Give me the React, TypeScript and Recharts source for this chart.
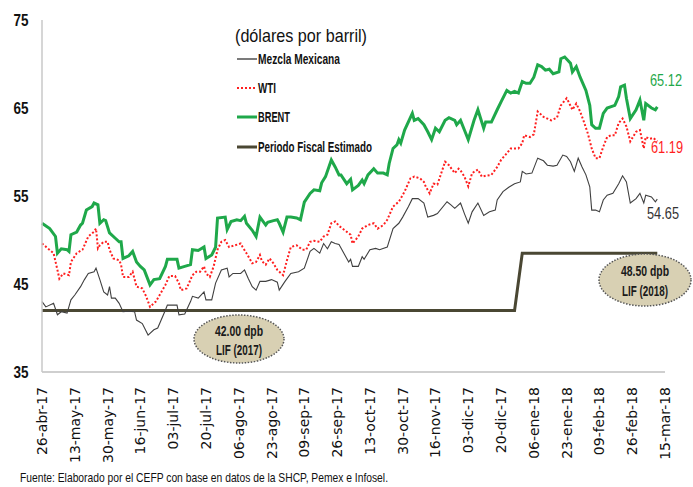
import React from 'react';
import { LineChart, Line, XAxis, YAxis } from 'recharts';

const tickDays = [0, 17, 34, 51, 68, 85, 102, 119, 136, 153, 170, 187, 204, 221, 238, 255, 272, 289, 306, 323];
const tickLabels = ['26-abr-17', '13-may-17', '30-may-17', '16-jun-17', '03-jul-17', '20-jul-17', '06-ago-17', '23-ago-17', '09-sep-17', '26-sep-17', '13-oct-17', '30-oct-17', '16-nov-17', '03-dic-17', '20-dic-17', '06-ene-18', '23-ene-18', '09-feb-18', '26-feb-18', '15-mar-18'];
const yTicks = [35, 45, 55, 65, 75];

const brentDays = [0, 4, 7, 8, 10, 13, 14, 15, 18, 20, 21, 23, 26, 27, 29, 30, 32, 33, 35, 38, 40, 41, 42, 45, 47, 49, 51, 53, 56, 58, 61, 64, 65, 70, 71, 74, 77, 78, 81, 84, 85, 88, 90, 91, 95, 96, 98, 101, 103, 105, 106, 109, 111, 113, 116, 117, 120, 122, 123, 125, 127, 129, 132, 134, 136, 139, 141, 144, 145, 147, 150, 152, 154, 155, 158, 160, 161, 164, 166, 167, 169, 172, 174, 177, 179, 180, 182, 184, 185, 186, 188, 192, 193, 195, 198, 200, 202, 204, 206, 209, 211, 214, 215, 217, 219, 221, 224, 226, 229, 230, 233, 236, 238, 241, 243, 245, 247, 249, 251, 253, 255, 257, 259, 261, 263, 265, 268, 269, 271, 274, 275, 277, 279, 282, 284, 285, 287, 289, 291, 293, 297, 299, 300, 302, 303, 305, 308, 310, 312, 313, 316, 318, 319];
const brentValues = [51.9, 51.3, 50.4, 48.5, 49.0, 48.9, 48.7, 50.6, 50.9, 51.7, 51.9, 53.4, 53.8, 54.2, 54.0, 51.9, 52.3, 52.2, 50.8, 50.2, 49.8, 49.8, 47.9, 48.2, 48.7, 47.5, 47.0, 46.6, 44.9, 45.5, 45.6, 47.0, 47.8, 47.8, 46.8, 47.0, 47.2, 48.9, 48.8, 49.2, 47.9, 48.3, 49.2, 52.5, 52.6, 51.2, 52.1, 52.3, 52.2, 52.7, 51.9, 51.1, 50.4, 52.6, 51.7, 52.0, 52.2, 52.3, 51.9, 50.9, 52.6, 52.6, 52.5, 52.3, 54.3, 55.3, 55.7, 55.6, 56.5, 57.2, 59.1, 58.3, 57.4, 57.4, 56.4, 56.9, 55.7, 56.2, 56.8, 56.4, 57.4, 58.1, 57.6, 57.6, 57.4, 58.7, 60.4, 60.8, 61.4, 61.0, 62.5, 64.4, 63.6, 63.8, 63.1, 62.3, 61.4, 62.7, 62.3, 63.6, 63.9, 63.6, 63.1, 63.6, 62.5, 61.4, 63.6, 64.8, 62.7, 63.4, 63.4, 64.8, 65.7, 67.0, 66.7, 66.9, 66.7, 68.0, 67.8, 67.8, 68.5, 69.9, 69.7, 69.3, 69.4, 68.9, 69.1, 70.6, 70.8, 70.1, 69.1, 69.7, 68.5, 67.0, 65.3, 63.1, 62.7, 62.7, 64.4, 65.0, 65.3, 66.3, 67.4, 67.6, 66.1, 63.8, 64.8, 65.9, 63.6, 65.5, 65.0, 64.8, 65.12];

const wtiDays = [0, 3, 6, 8, 9, 11, 14, 15, 18, 21, 22, 24, 27, 28, 29, 30, 32, 34, 35, 37, 40, 41, 42, 45, 47, 49, 52, 54, 56, 59, 61, 64, 66, 69, 71, 72, 75, 78, 80, 82, 84, 85, 87, 89, 91, 93, 95, 97, 100, 103, 104, 106, 109, 111, 113, 114, 116, 118, 120, 122, 125, 127, 129, 132, 135, 137, 139, 141, 144, 146, 148, 150, 152, 154, 157, 160, 161, 164, 166, 169, 172, 174, 177, 179, 182, 185, 188, 191, 193, 196, 198, 199, 201, 203, 205, 207, 209, 211, 214, 216, 217, 219, 221, 223, 226, 228, 230, 233, 236, 238, 241, 243, 247, 249, 250, 253, 255, 257, 260, 262, 264, 267, 269, 272, 273, 275, 277, 279, 281, 283, 285, 287, 289, 291, 293, 295, 297, 299, 301, 303, 305, 308, 310, 312, 313, 315, 317, 319];
const wtiValues = [49.6, 49.05, 48.5, 46.6, 45.6, 46.2, 46.0, 47.5, 48.5, 48.9, 49.4, 50.4, 50.95, 51.3, 49.05, 49.4, 49.8, 49.8, 48.9, 47.9, 47.7, 47.2, 45.8, 45.8, 46.4, 44.7, 44.5, 43.6, 42.4, 43.0, 43.75, 44.9, 45.9, 45.9, 45.1, 44.3, 44.5, 46.0, 46.4, 46.4, 47.0, 46.2, 45.8, 47.0, 48.9, 49.8, 50.0, 49.2, 49.4, 49.6, 49.2, 48.5, 47.35, 47.5, 48.3, 47.6, 47.2, 47.9, 47.35, 46.6, 46.0, 47.7, 49.2, 49.4, 48.9, 48.9, 49.8, 49.9, 49.8, 50.4, 50.6, 51.9, 52.1, 51.6, 51.1, 50.6, 49.6, 50.4, 51.3, 51.7, 51.9, 51.3, 51.7, 52.3, 53.8, 54.35, 55.5, 57.0, 57.2, 57.0, 56.6, 56.05, 55.3, 56.4, 56.3, 57.6, 58.9, 58.5, 57.6, 58.1, 57.9, 57.2, 56.1, 57.6, 58.0, 57.2, 57.3, 57.4, 58.3, 59.1, 59.85, 60.4, 60.4, 61.0, 61.9, 61.7, 62.0, 64.6, 64.0, 63.8, 63.6, 63.9, 65.3, 66.1, 65.7, 64.8, 65.5, 64.6, 63.4, 62.1, 60.4, 59.3, 59.3, 60.6, 61.7, 61.9, 61.9, 63.3, 63.8, 62.9, 61.2, 62.3, 62.5, 60.4, 61.7, 61.5, 61.6, 61.19];

const mezclaDays = [0, 2, 6, 8, 10, 13, 15, 17, 20, 22, 24, 27, 28, 30, 32, 34, 35, 36, 38, 40, 42, 45, 48, 49, 52, 55, 58, 60, 64, 65, 70, 71, 74, 77, 78, 81, 84, 85, 88, 90, 93, 96, 97, 99, 103, 105, 107, 109, 111, 113, 116, 119, 122, 123, 126, 129, 133, 136, 139, 141, 144, 146, 148, 150, 152, 154, 157, 159, 160, 161, 164, 166, 167, 170, 173, 175, 179, 182, 185, 187, 190, 192, 195, 198, 200, 203, 205, 210, 212, 214, 217, 219, 221, 223, 226, 229, 232, 235, 236, 239, 242, 245, 248, 249, 251, 254, 257, 260, 262, 265, 267, 270, 272, 274, 276, 278, 280, 282, 284, 285, 287, 289, 291, 293, 296, 299, 301, 303, 305, 308, 310, 312, 313, 316, 318, 319];
const mezclaValues = [43.0, 42.4, 42.8, 41.5, 41.85, 41.7, 43.2, 43.75, 44.7, 45.5, 46.2, 46.4, 46.8, 45.5, 44.1, 43.75, 44.7, 43.4, 43.4, 42.8, 41.85, 41.9, 41.85, 40.9, 40.5, 39.2, 39.8, 40.0, 42.05, 42.6, 42.6, 41.5, 41.6, 43.0, 43.6, 43.4, 44.1, 43.2, 43.2, 45.1, 46.6, 46.8, 45.8, 46.2, 46.2, 46.6, 45.6, 44.7, 44.3, 45.3, 45.3, 45.5, 45.2, 44.3, 45.3, 46.2, 46.4, 46.8, 48.7, 49.05, 48.5, 49.6, 49.0, 49.8, 49.6, 49.5, 48.3, 47.5, 47.8, 47.0, 47.0, 48.1, 47.8, 48.9, 49.05, 48.9, 49.2, 51.3, 51.9, 52.6, 53.8, 54.7, 54.7, 54.2, 52.6, 52.8, 53.0, 54.35, 54.0, 53.6, 54.2, 53.0, 51.9, 53.2, 54.2, 52.8, 53.2, 53.4, 54.55, 55.5, 56.0, 56.4, 56.6, 57.8, 57.5, 57.6, 59.3, 59.0, 58.5, 58.4, 58.5, 59.65, 59.5, 58.9, 57.8, 59.3, 58.3, 57.4, 56.05, 53.4, 53.4, 53.2, 54.55, 55.1, 55.3, 56.4, 57.3, 56.6, 54.2, 54.7, 55.3, 54.2, 55.1, 54.9, 54.35, 54.65];

const fiscalDays = [0, 245, 249, 319];
const fiscalValues = [42.0, 42.0, 48.5, 48.5];

const toSeries = (days: number[], values: number[]) => days.map((d, i) => ({ d, v: values[i] }));

const brentData = toSeries(brentDays, brentValues);
const wtiData = toSeries(wtiDays, wtiValues);
const mezclaData = toSeries(mezclaDays, mezclaValues);
const fiscalData = toSeries(fiscalDays, fiscalValues);

const lastOf = (arr: number[]) => arr[arr.length - 1].toFixed(2);

const GREEN = '#1fa84a';
const RED = '#ff1f1f';
const DARK = '#404040';
const OLIVE = '#4a4733';

const XTick = (props: any) => {
  const { x, payload } = props;
  const idx = tickDays.indexOf(payload.value);
  const label = idx >= 0 ? tickLabels[idx] : '';
  const tx = x + 5;
  const ty = 387;
  return (
    <text x={tx} y={ty} transform={`rotate(-90 ${tx} ${ty})`} textAnchor="end" fontFamily="DejaVu Sans" fontSize={14} fill="#111">
      {label}
    </text>
  );
};

const YTick = (props: any) => {
  const { y, payload } = props;
  return (
    <text x={21} y={y + 6} textAnchor="middle" fontFamily="Liberation Sans" fontWeight="bold" fontSize={17} textLength={15} lengthAdjust="spacingAndGlyphs" fill="#111">
      {payload.value}
    </text>
  );
};

const legendItems = [
  { label: 'Mezcla Mexicana', color: '#222', width: 1.2, dash: undefined as string | undefined, len: 82, cy: 59 },
  { label: 'WTI', color: RED, width: 2, dash: '2 2', len: 18, cy: 88 },
  { label: 'BRENT', color: GREEN, width: 3, dash: undefined, len: 32, cy: 117 },
  { label: 'Periodo Fiscal Estimado', color: OLIVE, width: 3, dash: undefined, len: 114, cy: 147 },
];

const endLabels = [
  { text: lastOf(brentValues), color: GREEN, x: 650, y: 86 },
  { text: lastOf(wtiValues), color: RED, x: 651, y: 153 },
  { text: lastOf(mezclaValues), color: '#333', x: 647, y: 219 },
];

export default function App() {
  return (
    <div style={{ position: 'absolute', left: 0, top: 0, width: 693, height: 487, background: '#fff' }}>
      <LineChart width={693} height={487} data={brentData} margin={{ top: 20, right: 28, bottom: 0, left: 0 }}>
        <XAxis
          dataKey="d"
          type="number"
          domain={[0, 323]}
          ticks={tickDays}
          interval={0}
          height={115}
          tickLine={false}
          axisLine={{ stroke: '#bfbfbf', strokeWidth: 1.5 }}
          tick={<XTick />}
        />
        <YAxis
          type="number"
          domain={[35, 75]}
          ticks={yTicks}
          width={42}
          tickLine={false}
          axisLine={{ stroke: '#c8c8c8', strokeWidth: 1.5 }}
          tick={<YTick />}
        />
        <Line data={fiscalData} dataKey="v" type="linear" stroke={OLIVE} strokeWidth={3} dot={false} isAnimationActive={false} />
        <Line data={mezclaData} dataKey="v" type="linear" stroke={DARK} strokeWidth={1.1} dot={false} isAnimationActive={false} />
        <Line data={wtiData} dataKey="v" type="linear" stroke={RED} strokeWidth={2} strokeDasharray="2 2" dot={false} isAnimationActive={false} />
        <Line data={brentData} dataKey="v" type="linear" stroke={GREEN} strokeWidth={3} dot={false} isAnimationActive={false} />
      </LineChart>
      <svg width={693} height={487} style={{ position: 'absolute', left: 0, top: 0, pointerEvents: 'none' }}>
        <text x={235} y={42} fontFamily="Liberation Sans" fontSize={19} textLength={132} lengthAdjust="spacingAndGlyphs" fill="#111">
          (dólares por barril)
        </text>
        {legendItems.map((it) => (
          <g key={it.label}>
            <line x1={237} x2={257} y1={it.cy} y2={it.cy} stroke={it.color} strokeWidth={it.width} strokeDasharray={it.dash} />
            <text x={258} y={it.cy + 5} fontFamily="Liberation Sans" fontWeight="bold" fontSize={14} textLength={it.len} lengthAdjust="spacingAndGlyphs" fill="#111">
              {it.label}
            </text>
          </g>
        ))}
        {endLabels.map((l) => (
          <text key={l.text} x={l.x} y={l.y} fontFamily="Liberation Sans" fontSize={17} textLength={32} lengthAdjust="spacingAndGlyphs" fill={l.color}>
            {l.text}
          </text>
        ))}
        <ellipse cx={239} cy={339} rx={45} ry={24} fill="#d8d0b3" stroke="#555" strokeWidth={1.5} strokeDasharray="1.5 1.5" />
        <text x={239} y={336} textAnchor="middle" fontFamily="Liberation Sans" fontWeight="bold" fontSize={14} textLength={48} lengthAdjust="spacingAndGlyphs" fill="#1a1a1a">42.00 dpb</text>
        <text x={239} y={355} textAnchor="middle" fontFamily="Liberation Sans" fontWeight="bold" fontSize={14} textLength={46} lengthAdjust="spacingAndGlyphs" fill="#1a1a1a">LIF (2017)</text>
        <ellipse cx={645} cy={280} rx={46} ry={26} fill="#d8d0b3" stroke="#555" strokeWidth={1.5} strokeDasharray="1.5 1.5" />
        <text x={645} y={276} textAnchor="middle" fontFamily="Liberation Sans" fontWeight="bold" fontSize={14} textLength={48} lengthAdjust="spacingAndGlyphs" fill="#1a1a1a">48.50 dpb</text>
        <text x={645} y={296} textAnchor="middle" fontFamily="Liberation Sans" fontWeight="bold" fontSize={14} textLength={46} lengthAdjust="spacingAndGlyphs" fill="#1a1a1a">LIF (2018)</text>
        <text x={20} y={482} fontFamily="Liberation Sans" fontSize={13} textLength={368} lengthAdjust="spacingAndGlyphs" fill="#111">
          Fuente: Elaborado por el CEFP con base en datos de la SHCP, Pemex e Infosel.
        </text>
      </svg>
    </div>
  );
}
